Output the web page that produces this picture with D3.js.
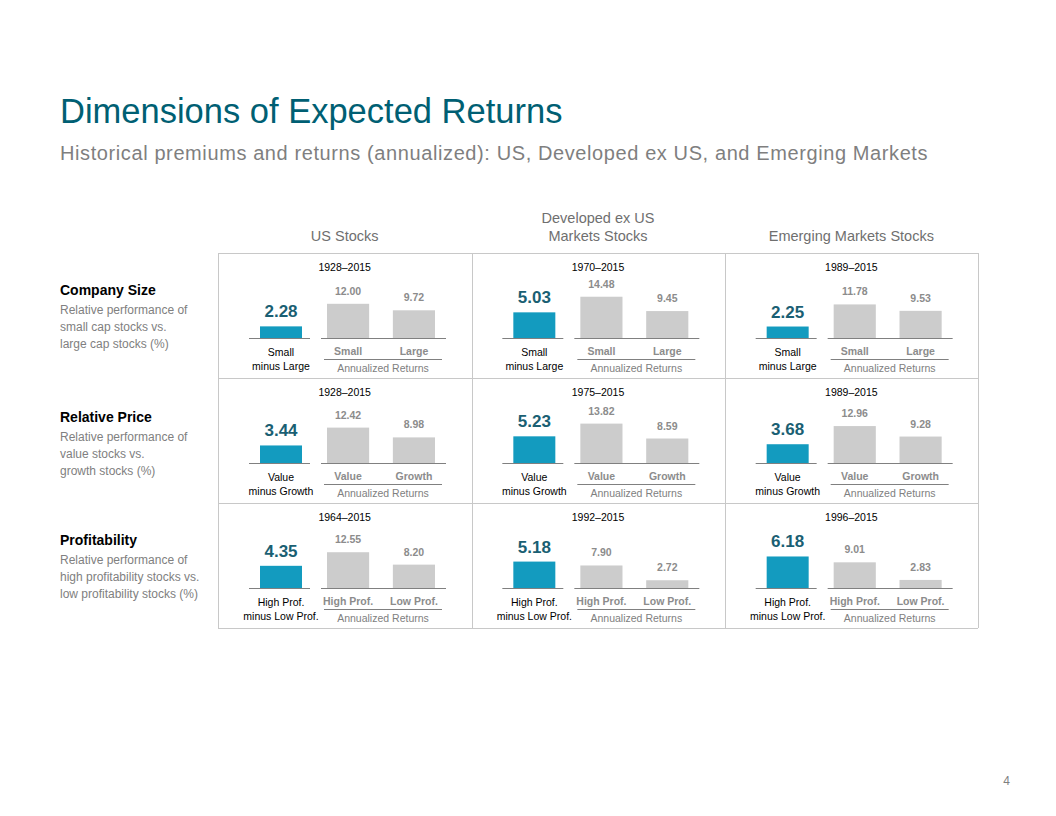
<!DOCTYPE html>
<html>
<head>
<meta charset="utf-8">
<script src="https://cdn.jsdelivr.net/npm/d3@7"></script>
<style>
  body { margin: 0; background: #fff; }
  svg { font-family: "Liberation Sans", Arial, sans-serif; }
</style>
</head>
<body>
<div id="chart"></div>
<script>
// ---- data ----
const regions = [["US Stocks"], ["Developed ex US", "Markets Stocks"], ["Emerging Markets Stocks"]];
const dimensions = ["Company Size", "Relative Price", "Profitability"];
const descriptions = [
  ["Relative performance of", "small cap stocks vs.", "large cap stocks (%)"],
  ["Relative performance of", "value stocks vs.", "growth stocks (%)"],
  ["Relative performance of", "high profitability stocks vs.", "low profitability stocks (%)"]
];
const periods = [
  ["1928–2015", "1970–2015", "1989–2015"],
  ["1928–2015", "1975–2015", "1989–2015"],
  ["1964–2015", "1992–2015", "1996–2015"]
];
const premiums = [
  [2.28, 5.03, 2.25],
  [3.44, 5.23, 3.68],
  [4.35, 5.18, 6.18]
];
const returnsFirst = [
  [12.00, 14.48, 11.78],
  [12.42, 13.82, 12.96],
  [12.55, 7.90, 9.01]
];
const returnsSecond = [
  [9.72, 9.45, 9.53],
  [8.98, 8.59, 9.28],
  [8.20, 2.72, 2.83]
];
const premiumLabels = [["Small", "minus Large"], ["Value", "minus Growth"], ["High Prof.", "minus Low Prof."]];
const pairLabels = [["Small", "Large"], ["Value", "Growth"], ["High Prof.", "Low Prof."]];

const W = 1056, H = 816;
const svg = d3.select("#chart").append("svg")
  .attr("width", W).attr("height", H);

// title
svg.append("text").attr("x", 60).attr("y", 123)
  .attr("font-size", 34.5).attr("fill", "#005f73")
  .text("Dimensions of Expected Returns");
svg.append("text").attr("x", 60).attr("y", 160)
  .attr("font-size", 20).attr("letter-spacing", 0.6).attr("fill", "#7f7f7f")
  .text("Historical premiums and returns (annualized): US, Developed ex US, and Emerging Markets");

// grid scales
const col = d3.scaleBand().domain(d3.range(3)).range([218, 978]);
const row = d3.scaleBand().domain(d3.range(3)).range([253, 628]);

// value scales (pixel heights)
const yPrem = d3.scaleLinear().domain([0, 10]).range([0, 51]);
const yRet = d3.scaleLinear().domain([0, 20]).range([0, 57]);
const pairX = d3.scaleBand().domain([0, 1]).range([109, 217]).paddingInner(0.36);

// column headers
regions.forEach((lines, c) => {
  const t = svg.append("text")
    .attr("x", col(c) + col.bandwidth() / 2)
    .attr("y", 241 - (lines.length - 1) * 18)
    .attr("text-anchor", "middle").attr("font-size", 14.5).attr("fill", "#6f6f6f");
  lines.forEach((l, i) => t.append("tspan")
    .attr("x", col(c) + col.bandwidth() / 2).attr("dy", i ? 18 : 0).text(l));
});

// row labels
dimensions.forEach((d, r) => {
  const y0 = row(r) + (r === 1 ? 2 : 0);
  svg.append("text").attr("x", 60).attr("y", y0 + 42)
    .attr("font-size", 14).attr("font-weight", "bold").attr("fill", "#000").text(d);
  descriptions[r].forEach((l, i) => {
    svg.append("text").attr("x", 60).attr("y", y0 + 61 + i * 17)
      .attr("font-size", 12).attr("fill", "#808080").text(l);
  });
});

// grid lines
const gridG = svg.append("g").attr("stroke", "#c8c8c8").attr("stroke-width", 1);
[253, 378, 503, 628].forEach(y => gridG.append("line")
  .attr("x1", 218).attr("x2", 978).attr("y1", y + 0.5).attr("y2", y + 0.5));
[218, 471.5, 725, 978].forEach(x => gridG.append("line")
  .attr("x1", Math.round(x) + 0.5).attr("x2", Math.round(x) + 0.5).attr("y1", 253).attr("y2", 628));

// cells
for (let r = 0; r < 3; r++) {
  for (let c = 0; c < 3; c++) {
    const g = svg.append("g").attr("transform", `translate(${col(c)},${row(r)})`);
    const base = 85;
    const cx = col.bandwidth() / 2;

    g.append("text").attr("x", cx).attr("y", 18)
      .attr("text-anchor", "middle").attr("font-size", 10.5).attr("fill", "#000")
      .text(periods[r][c]);

    // premium bar
    const p = premiums[r][c];
    g.append("rect").attr("x", 42).attr("width", 42)
      .attr("y", base - yPrem(p)).attr("height", yPrem(p))
      .attr("fill", "#139bbf");
    g.append("text").attr("x", 63).attr("y", base - yPrem(p) - 9)
      .attr("text-anchor", "middle").attr("font-size", 17).attr("font-weight", "bold")
      .attr("fill", "#1a5f73").text(p.toFixed(2));
    g.append("line").attr("x1", 31).attr("x2", 92).attr("y1", base + 0.5).attr("y2", base + 0.5)
      .attr("stroke", "#808080");
    premiumLabels[r].forEach((l, i) => g.append("text")
      .attr("x", 63).attr("y", base + 18 + i * 14)
      .attr("text-anchor", "middle").attr("font-size", 10.5).attr("fill", "#000").text(l));

    // annualized return bars
    const vals = [returnsFirst[r][c], returnsSecond[r][c]];
    vals.forEach((v, i) => {
      g.append("rect").attr("x", pairX(i)).attr("width", pairX.bandwidth())
        .attr("y", base - yRet(v)).attr("height", yRet(v))
        .attr("fill", "#cccccc");
      g.append("text").attr("x", pairX(i) + pairX.bandwidth() / 2).attr("y", base - yRet(v) - 9)
        .attr("text-anchor", "middle").attr("font-size", 10.5).attr("font-weight", "bold")
        .attr("fill", "#8c8c8c").text(v.toFixed(2));
      g.append("text").attr("x", pairX(i) + pairX.bandwidth() / 2).attr("y", base + 17)
        .attr("text-anchor", "middle").attr("font-size", 10.5).attr("font-weight", "bold")
        .attr("fill", "#8c8c8c").text(pairLabels[r][i]);
    });
    g.append("line").attr("x1", 103).attr("x2", 228).attr("y1", base + 0.5).attr("y2", base + 0.5)
      .attr("stroke", "#808080");
    g.append("line").attr("x1", 106).attr("x2", 224).attr("y1", base + 21.5).attr("y2", base + 21.5)
      .attr("stroke", "#808080");
    g.append("text").attr("x", 165).attr("y", base + 34)
      .attr("text-anchor", "middle").attr("font-size", 10.5).attr("fill", "#808080")
      .text("Annualized Returns");
  }
}

// page number
svg.append("text").attr("x", 1010).attr("y", 785)
  .attr("text-anchor", "end").attr("font-size", 12).attr("fill", "#7f7f7f").text("4");
</script>
</body>
</html>
